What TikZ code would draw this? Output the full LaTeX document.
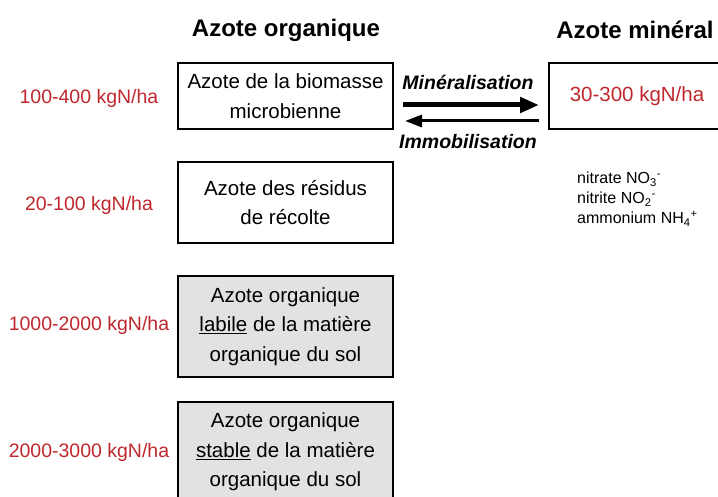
\documentclass[tikz,border=0pt]{standalone}
\usepackage{fontspec}
\setmainfont{Liberation Sans}
\usetikzlibrary{arrows.meta,shadows}
\definecolor{numred}{RGB}{192,39,45}
\definecolor{boxgray}{RGB}{226,226,226}
\begin{document}
\begin{tikzpicture}[x=1pt,y=-1pt,
  pool/.style={draw=black, line width=2pt, align=center, inner sep=0pt,
    font=\fontsize{20.5}{29.5}\selectfont},
  graypool/.style={pool, fill=boxgray, line width=1.3pt,
    drop shadow={shadow xshift=1.2pt, shadow yshift=-1.2pt, fill=black, opacity=1}},
  amount/.style={text=numred, font=\fontsize{19.5}{23}\selectfont, inner sep=0pt},
  heading/.style={font=\bfseries\fontsize{24}{28}\selectfont, inner sep=0pt},
  process/.style={font=\bfseries\itshape\fontsize{19.5}{23}\selectfont, inner sep=0pt},
  ions/.style={align=left, font=\fontsize{16}{20}\selectfont, inner sep=0pt}
]
\useasboundingbox (0,0) rectangle (718,497);
\clip (0,0) rectangle (718,497);

\node[heading] (horg) at (286,30) {Azote organique};
\node[heading] (hmin) at (635,30) {Azote minéral};

\node[pool, minimum width=215, minimum height=66] (bio) at (285.5,96)
  {Azote de la biomasse\\microbienne};
\node[pool, minimum width=215, minimum height=81] (res) at (285.5,202.5)
  {Azote des résidus\\de récolte};
\node[graypool, minimum width=215, minimum height=101] (lab) at (285.5,326.5)
  {\fontsize{20.5}{28}\selectfont Azote organique\\\underline{labile} de la matière\\organique du sol};
\node[graypool, minimum width=215, minimum height=100] (sta) at (285.5,452)
  {\fontsize{20.5}{28}\selectfont Azote organique\\\underline{stable} de la matière\\organique du sol};

\node[pool, minimum width=176, minimum height=66] (min) at (637,96)
  {\textcolor{numred}{30-300 kgN/ha}};

\node[amount] (a1) at (89,98) {100-400 kgN/ha};
\node[amount] (a2) at (89,205) {20-100 kgN/ha};
\node[amount] (a3) at (89,325) {1000-2000 kgN/ha};
\node[amount] (a4) at (89,452) {2000-3000 kgN/ha};

\node[process] (pmin) at (468,82) {Minéralisation};
\node[process] (pimm) at (468,142) {Immobilisation};

\draw[line width=5pt, -{Triangle[length=19pt,width=15pt]}]
  ([xshift=9pt,yshift=-9pt]bio.east) -- ([xshift=-9pt,yshift=-9pt]min.west);
\draw[line width=3pt, -{Triangle[length=17pt,width=12pt]}]
  ([xshift=-9pt,yshift=-25pt]min.west) -- ([xshift=11pt,yshift=-25pt]bio.east);

\node[ions, anchor=base west] (ion) at (577,224)
  {nitrate NO\textsubscript{3}\textsuperscript{-}\\
   nitrite NO\textsubscript{2}\textsuperscript{-}\\
   ammonium NH\textsubscript{4}\textsuperscript{+}};
\end{tikzpicture}
\end{document}
